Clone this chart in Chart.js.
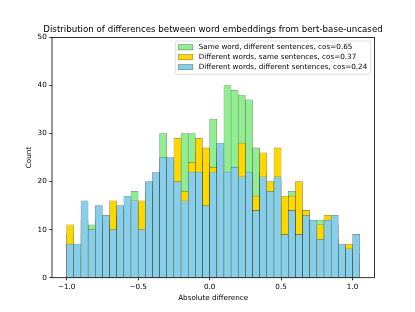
<!DOCTYPE html>
<html>
<head>
<meta charset="utf-8">
<script src="https://cdn.jsdelivr.net/npm/chart.js@4.4.1/dist/chart.umd.min.js"></script>
<style>
  html, body { margin: 0; padding: 0; background: #ffffff; }
  #wrap { width: 415px; height: 312px; }
</style>
</head>
<body>
<div id="wrap"><canvas id="myChart" width="415" height="312"></canvas></div>
<script>
"use strict"

// bin centres, bins are 0.05 wide from -1.0 to 1.05
const binCenters = [
    -0.975, -0.925, -0.875, -0.825, -0.775, -0.725, -0.675, -0.625, -0.575, -0.525,
    -0.475, -0.425, -0.375, -0.325, -0.275, -0.225, -0.175, -0.125, -0.075, -0.025,
    0.025, 0.075, 0.125, 0.175, 0.225, 0.275, 0.325, 0.375, 0.425, 0.475,
    0.525, 0.575, 0.625, 0.675, 0.725, 0.775, 0.825, 0.875, 0.925, 0.975,
    1.025
];

const sameWordCounts = [
    9, 4, 9, 11, 12, 11, 12, 14, 15, 18,
    14, 17, 20, 30, 24, 25, 30, 30, 26, 24,
    33, 27, 40, 39, 38, 37, 27, 22, 18, 20,
    15, 18, 14, 12, 10, 12, 9, 8, 5, 4,
    3
];

const diffWordsSameSentCounts = [
    11, 5, 12, 8, 11, 10, 16, 13, 14, 15,
    16, 18, 19, 22, 23, 29, 18, 24, 29, 27,
    23, 24, 20, 21, 28, 20, 17, 26, 20, 27,
    17, 17, 20, 14, 10, 11, 13, 11, 6, 7,
    5
];

const diffWordsDiffSentCounts = [
    7, 7, 16, 10, 15, 13, 10, 15, 17, 16,
    10, 20, 22, 25, 25, 20, 16, 22, 22, 15,
    22, 28, 22, 23, 21, 22, 14, 21, 18, 21,
    9, 14, 9, 13, 12, 8, 12, 13, 7, 6,
    9
];

const seriesLabels = [
    "Same word, different sentences, cos=0.65",
    "Different words, same sentences, cos=0.37",
    "Different words, different sentences, cos=0.24"
];

const xTicks = [-1.0, -0.5, 0.0, 0.5, 1.0];
const yTicks = [0, 10, 20, 30, 40, 50];

const titleText = "Distribution of differences between word embeddings from bert-base-uncased";
const xLabel = "Absolute difference";
const yLabel = "Count";

const FONT = "'DejaVu Sans', sans-serif";
const SMALL = 7.22;


class HistChart{
    canvas;
    myChart;

    constructor(canvas){
        this.canvas = canvas;
    }

    makePoints(values){
        return binCenters.map((x, i) => ({ x: x, y: values[i] }));
    }

    makeDataset(label, values, color, order){
        return {
            label: label,
            data: this.makePoints(values),
            backgroundColor: color,
            borderColor: "rgba(0, 0, 0, 0.5)",
            borderWidth: 0.55,
            borderSkipped: false,
            grouped: false,
            barPercentage: 1.0,
            categoryPercentage: 1.0,
            order: order
        };
    }

    // axes frame on all four sides like matplotlib spines
    framePlugin(){
        return {
            id: "frame",
            afterDatasetsDraw(chart){
                const ctx = chart.ctx;
                const a = chart.chartArea;
                ctx.save();
                ctx.strokeStyle = "#000000";
                ctx.lineWidth = 0.8;
                ctx.strokeRect(a.left, a.top, a.right - a.left, a.bottom - a.top);
                ctx.restore();
            }
        };
    }

    // legend box in upper right corner, inside the axes
    legendPlugin(){
        return {
            id: "innerLegend",
            afterDraw(chart){
                const ctx = chart.ctx;
                const a = chart.chartArea;
                const sets = chart.data.datasets;
                ctx.save();
                ctx.font = SMALL + "px " + FONT;
                let maxW = 0;
                sets.forEach(ds => { maxW = Math.max(maxW, ctx.measureText(ds.label).width); });

                const rowH = 9.9;
                const boxRight = a.right - 3.6;
                const boxTop = a.top + 3.6;
                const textX = boxRight - 3.5 - maxW;
                const handleW = 14.4;
                const handleX = textX - 5.8 - handleW;
                const boxLeft = handleX - 3.2;
                const boxH = rowH * sets.length + 3.5;

                ctx.fillStyle = "rgba(255, 255, 255, 0.8)";
                ctx.strokeStyle = "rgba(204, 204, 204, 0.8)";
                ctx.lineWidth = 0.8;
                ctx.beginPath();
                ctx.roundRect(boxLeft, boxTop, boxRight - boxLeft, boxH, 2);
                ctx.fill();
                ctx.stroke();

                ctx.textBaseline = "middle";
                ctx.textAlign = "left";
                sets.forEach((ds, i) => {
                    const cy = boxTop + 6.3 + rowH * i;
                    ctx.fillStyle = ds.backgroundColor;
                    ctx.fillRect(handleX, cy - 2.6, handleW, 5.2);
                    ctx.strokeStyle = "rgba(0, 0, 0, 0.45)";
                    ctx.lineWidth = 0.6;
                    ctx.strokeRect(handleX, cy - 2.6, handleW, 5.2);
                    ctx.fillStyle = "#000000";
                    ctx.fillText(ds.label, textX, cy);
                });
                ctx.restore();
            }
        };
    }

    initChart(){
        const ctx = this.canvas.getContext("2d");
        this.myChart = new Chart(ctx, {
            type: "bar",
            data: {
                datasets: [
                    this.makeDataset(seriesLabels[0], sameWordCounts, "#90ee90", 3),
                    this.makeDataset(seriesLabels[1], diffWordsSameSentCounts, "#ffd700", 2),
                    this.makeDataset(seriesLabels[2], diffWordsDiffSentCounts, "#87ceeb", 1)
                ]
            },
            options: {
                responsive: false,
                devicePixelRatio: 1,
                animation: false,
                layout: {
                    padding: { left: 11, right: 0, top: 0, bottom: 0 }
                },
                plugins: {
                    legend: { display: false },
                    tooltip: { enabled: false },
                    title: {
                        display: true,
                        text: titleText,
                        color: "#000000",
                        font: { family: FONT, size: 8.67, weight: "normal", lineHeight: 1.2 },
                        padding: { top: 24.9, bottom: 2.1 }
                    }
                },
                scales: {
                    x: {
                        type: "linear",
                        min: -1.1025,
                        max: 1.1525,
                        offset: false,
                        afterBuildTicks: s => { s.ticks = xTicks.map(v => ({ value: v })); },
                        afterFit: s => { s.height = 34.3; },
                        grid: {
                            display: true,
                            offset: false,
                            drawOnChartArea: false,
                            drawTicks: true,
                            tickLength: 2.6,
                            tickColor: "#000000",
                            tickWidth: 0.8
                        },
                        border: { display: false },
                        ticks: {
                            color: "#000000",
                            padding: 2.6,
                            maxRotation: 0,
                            font: { family: FONT, size: SMALL },
                            callback: v => v.toFixed(1).replace("-", "\u2212")
                        },
                        title: {
                            display: true,
                            text: xLabel,
                            color: "#000000",
                            font: { family: FONT, size: SMALL, lineHeight: 1.2 },
                            padding: { top: 0, bottom: 9.6 }
                        }
                    },
                    y: {
                        type: "linear",
                        min: 0,
                        max: 50,
                        afterBuildTicks: s => { s.ticks = yTicks.map(v => ({ value: v })); },
                        afterFit: s => { s.width = 41; },
                        grid: {
                            display: true,
                            drawOnChartArea: false,
                            drawTicks: true,
                            tickLength: 2.6,
                            tickColor: "#000000",
                            tickWidth: 0.8
                        },
                        border: { display: false },
                        ticks: {
                            color: "#000000",
                            padding: 2.6,
                            font: { family: FONT, size: SMALL }
                        },
                        title: {
                            display: true,
                            text: yLabel,
                            color: "#000000",
                            font: { family: FONT, size: SMALL, lineHeight: 1.2 },
                            padding: { top: 14, bottom: 0 }
                        }
                    },
                    // empty right axis, only keeps the space right of the axes
                    yRight: {
                        type: "linear",
                        position: "right",
                        display: true,
                        grid: { display: false },
                        border: { display: false },
                        ticks: { display: false },
                        afterFit: s => { s.width = 40.6; }
                    }
                }
            },
            plugins: [this.framePlugin(), this.legendPlugin()]
        });
        console.log("initChart completed");
    }

    run(){
        this.initChart();
    }
}

const main = new HistChart(document.getElementById("myChart"));
main.run();
</script>
</body>
</html>
